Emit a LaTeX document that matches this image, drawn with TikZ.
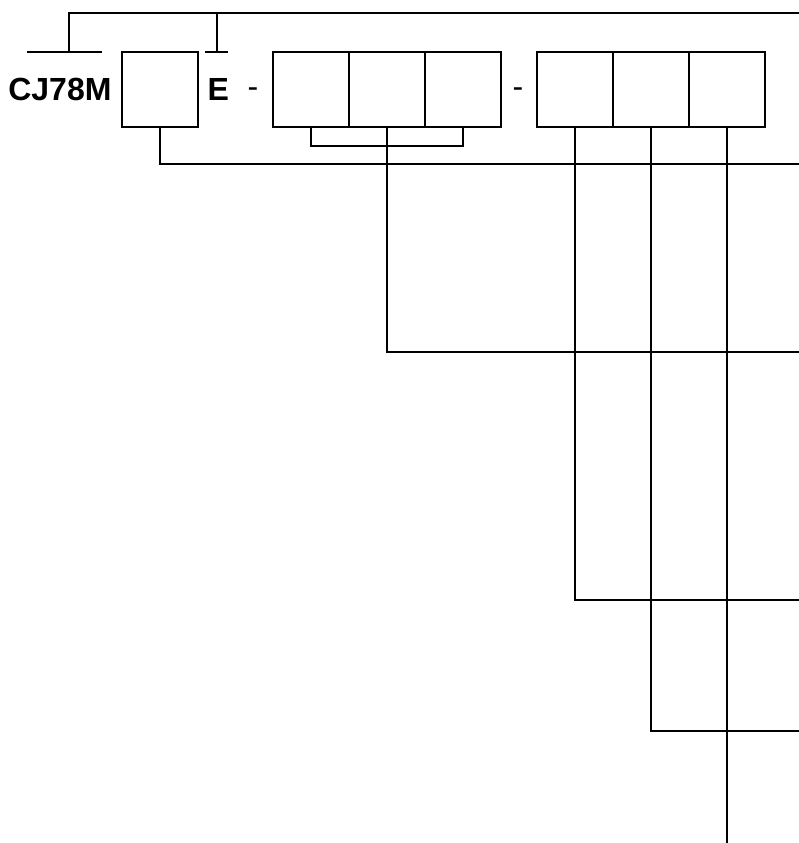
\documentclass[tikz,border=0pt]{standalone}
\usepackage{fontspec}
\setmainfont{Liberation Sans}
\usetikzlibrary{positioning}
\tikzset{cell/.style={draw, minimum width=57pt, minimum height=56.25pt, inner sep=0pt, outer sep=0pt},
         code text/.style={font=\bfseries\fontsize{24}{24}\selectfont, inner sep=0pt},
         dash text/.style={font=\fontsize{24}{24}\selectfont, inner sep=0pt},}

\begin{document}
\begin{tikzpicture}[x=0.75pt,y=-0.75pt,line width=1.5pt]
        \useasboundingbox (0,0) rectangle (799,843);
        % Nodes
        \node[cell] (m) at (159.5,89.5) {};
        \node[code text] [left = 6.75pt of m] (cj) {CJ78M};
        \node[code text] [right = 6.75pt of m] (e) {E};
        \node[dash text] (d1) at (253,93) {-};
        \node[cell] (a1) at (311,89.5) {};
        \node[cell] [right = 0pt of a1] (a2) {};
        \node[cell] [right = 0pt of a2] (a3) {};
        \node[dash text] (d2) at (518,93) {-};
        \node[cell] (b1) at (575,89.5) {};
        \node[cell] [right = 0pt of b1] (b2) {};
        \node[cell] [right = 0pt of b2] (b3) {};
        % Ends
        \coordinate (t1) at (27,52);
        \coordinate (t2) at (102,52);
        \coordinate (t3) at (205,52);
        \coordinate (t4) at (228,52);
        \coordinate (tr) at (799,13);
        \coordinate (r1) at (799,164);
        \coordinate (r2) at (799,352);
        \coordinate (r3) at (799,600);
        \coordinate (r4) at (799,731);
        \coordinate (bot) at (727,843);
        % Paths
        \draw (t1) -- (t2);
        \draw (t3) -- (t4);
        \draw (69,52) |- (tr);
        \draw (217,52) -- (217,13);
        \draw (m.south) |- (r1);
        \draw (a1.south) -- ++(0,19) -| (a3.south);
        \draw (a2.south) |- (r2);
        \draw (b1.south) |- (r3);
        \draw (b2.south) |- (r4);
        \draw (b3.south) -- (bot);
    \end{tikzpicture}
\end{document}
